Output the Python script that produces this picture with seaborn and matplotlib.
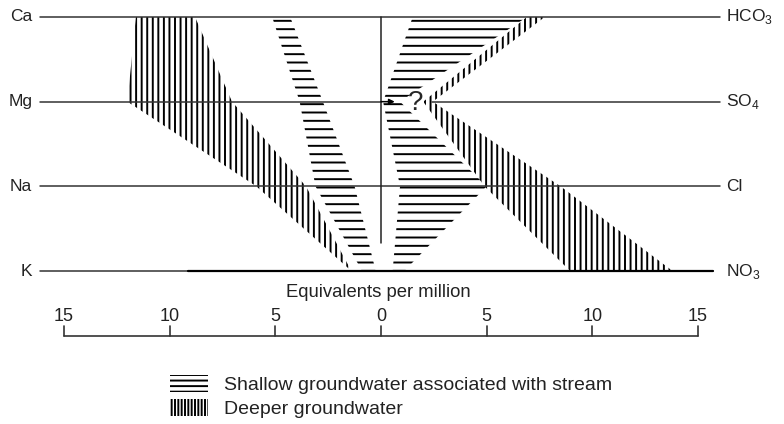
import matplotlib
matplotlib.use("Agg")
import matplotlib.pyplot as plt
import seaborn as sns
import pandas as pd
from matplotlib.patches import Patch

# ---- data (equivalents per million; cations negative = left side) ----
cations = ["Ca", "Mg", "Na", "K"]
anions = ["HCO$_3$", "SO$_4$", "Cl", "NO$_3$"]
row_pos = [0, 1, 2, 3]

shallow_cation_outer = [-5.15, -3.85, -3.1, -0.9]
shallow_cation_inner = [-4.3, -2.75, -1.25, -0.25]
shallow_anion_inner = [1.5, 0.1, 0.9, 0.55]
shallow_anion_outer = [6.9, 0.9, 5.0, 1.1]

deep_cation_outer = [-11.6, -12.0, -5.9, -1.4]
deep_cation_inner = [-8.8, -7.05, -3.55, -1.4]
deep_anion_inner = [6.9, 2.0, 4.9, 8.95]
deep_anion_outer = [7.75, 2.45, 8.5, 13.8]

scale_ticks = [-15, -10, -5, 0, 5, 10, 15]
scale_labels = ["15", "10", "5", "0", "5", "10", "15"]

legend_labels = ["Shallow groundwater associated with stream", "Deeper groundwater"]

# ---- style ----
sns.set_theme(style="white")
plt.rcParams["font.family"] = ["Liberation Sans", "DejaVu Sans"]
plt.rcParams["hatch.linewidth"] = 1.4
plt.rcParams["mathtext.fontset"] = "custom"
plt.rcParams["mathtext.rm"] = "Liberation Sans"

PX_X = 21.13   # pixels per unit
PX_Y = 84.67
fig = plt.figure(figsize=(7.84, 4.24), dpi=100)
ax = fig.add_axes([0, 0, 1, 1])
ax.set_xlim(-381 / PX_X, (784 - 381) / PX_X)
ax.set_ylim((424 - 17) / PX_Y, -17 / PX_Y)
ax.axis("off")

def py(p):  # pixel row -> data y
    return (p - 17) / PX_Y

# hatched regions
for inner, outer, h in [
    (shallow_cation_inner, shallow_cation_outer, "--"),
    (shallow_anion_inner, shallow_anion_outer, "--"),
    (deep_cation_inner, deep_cation_outer, "|||"),
    (deep_anion_inner, deep_anion_outer, "|||"),
]:
    ax.fill_betweenx(row_pos, inner, outer, facecolor="none",
                     edgecolor="black", hatch=h, linewidth=0)

# row lines
xl, xr = -16.14, 16.04
lc = "#333333"
df_lines = pd.DataFrame({
    "x": [xl, xr, xl, xr, xl, 15.7],
    "y": [0, 0, 2, 2, 3, 3],
    "row": ["Ca", "Ca", "Na", "Na", "K", "K"],
})
sns.lineplot(data=df_lines, x="x", y="y", units="row", estimator=None,
             color=lc, lw=1.1, ax=ax, sort=False, legend=False)
ax.plot([xl, 0.0], [1, 1], color=lc, lw=1.1)
ax.plot([2.4, xr], [1, 1], color=lc, lw=1.1)
ax.plot([xl + 7.0, 15.7], [3, 3], color="black", lw=1.6)
ax.annotate("", xy=(0.65, 1), xytext=(0.0, 1),
            arrowprops=dict(arrowstyle="-|>", lw=1.1, color="black",
                            mutation_scale=8, shrinkA=0, shrinkB=0))
ax.text(1.66, 1.02, "?", fontsize=20, ha="center", va="center")

# center line
ax.plot([0, 0], [0, py(243)], color="#222222", lw=1.1)

# row labels
for i, (c, a) in enumerate(zip(cations, anions)):
    ax.text(-16.5, i, c, ha="right", va="center", fontsize=12.5, color="#222222")
    ax.text(16.35, i, a, ha="left", va="center", fontsize=12.5, color="#222222")

# scale bar
yb = py(336)
ax.plot([scale_ticks[0], scale_ticks[-1]], [yb, yb], color="#333333", lw=1.2)
for t, lab in zip(scale_ticks, scale_labels):
    ax.plot([t, t], [yb, py(326)], color="#333333", lw=1.2)
    ax.text(t, py(321), lab, ha="center", va="baseline", fontsize=13,
            color="#222222")
ax.text(-0.14, py(293), "Equivalents per million", ha="center",
        va="center", fontsize=13.3, color="#222222")

# legend
handles = [
    Patch(facecolor="none", edgecolor="black", hatch="---", linewidth=0),
    Patch(facecolor="none", edgecolor="black", hatch="|||||", linewidth=0),
]
leg = fig.legend(handles=handles, labels=legend_labels, loc="upper left",
                 bbox_to_anchor=(170 / 784, 1 - 375 / 424), frameon=False,
                 fontsize=14, handlelength=1.95, handleheight=0.95,
                 handletextpad=0.85, labelspacing=0.25, borderpad=0,
                 borderaxespad=0)
for t in leg.get_texts():
    t.set_color("#222222")

fig.savefig("out.png", dpi=100)
